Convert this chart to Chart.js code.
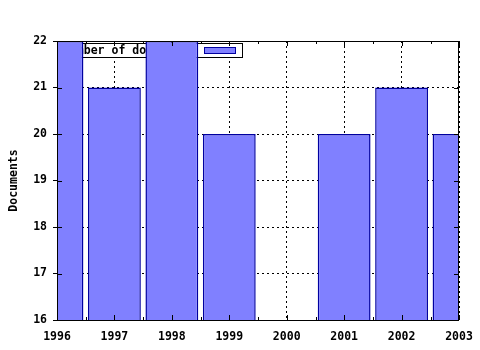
<!DOCTYPE html>
<html lang="en">
<head>
<meta charset="UTF-8">
<title>Documents per year</title>
<script src="https://cdn.jsdelivr.net/npm/chart.js"></script>
<style>
  html, body { margin: 0; padding: 0; background: #fff; }
  #wrap { width: 480px; height: 350px; }
</style>
</head>
<body>
<div id="wrap"><canvas id="docChart"></canvas></div>
<script>
    // chart data
    const years = ['1996', '1997', '1998', '1999', '2000', '2001', '2002', '2003'];
    const docs = [22, 21, 22, 20, null, 20, 21, 20];
    const yTicks = [16, 17, 18, 19, 20, 21, 22];
    const seriesName = 'Number of documents';

    const FONT = { family: 'DejaVu Sans Mono', size: 11.5, weight: 'bold' };

    // legend box sits under the bars, like the original
    const legendUnderBars = {
        id: 'legendUnderBars',
        beforeDatasetsDraw(chart) {
            const ctx = chart.ctx;
            const a = chart.chartArea;
            ctx.save();
            ctx.fillStyle = '#fff';
            ctx.strokeStyle = '#000';
            ctx.lineWidth = 1;
            ctx.fillRect(a.left + 3, a.top + 3, 183, 13);
            ctx.strokeRect(a.left + 3.5, a.top + 2.5, 182, 14);
            ctx.fillStyle = '#000';
            ctx.font = 'bold 11.5px "DejaVu Sans Mono"';
            ctx.textBaseline = 'middle';
            ctx.fillText(seriesName, a.left + 6, a.top + 10);
            ctx.fillStyle = '#8080ff';
            ctx.fillRect(a.left + 147, a.top + 6, 32, 7);
            ctx.strokeStyle = '#0000a0';
            ctx.strokeRect(a.left + 147.5, a.top + 6.5, 31, 6);
            ctx.restore();
        }
    };

    // frame and inward ticks
    const frame = {
        id: 'frame',
        afterDatasetsDraw(chart) {
            const ctx = chart.ctx;
            const a = chart.chartArea;
            const x = chart.scales.x;
            const y = chart.scales.y;
            ctx.save();
            ctx.strokeStyle = '#000';
            ctx.lineWidth = 1;
            ctx.strokeRect(Math.round(a.left) + 0.5, Math.round(a.top) + 0.5,
                Math.round(a.right - a.left) - 1, Math.round(a.bottom - a.top));
            ctx.beginPath();
            for (let i = 0; i < years.length; i++) {
                const px = Math.round(x.getPixelForValue(i)) + 0.5;
                ctx.moveTo(px, a.bottom); ctx.lineTo(px, a.bottom - 5);
                ctx.moveTo(px, a.top); ctx.lineTo(px, a.top + 5);
                if (i < years.length - 1) {
                    const mx = Math.round((px + x.getPixelForValue(i + 1)) / 2) + 0.5;
                    ctx.moveTo(mx, a.bottom); ctx.lineTo(mx, a.bottom - 3);
                    ctx.moveTo(mx, a.top); ctx.lineTo(mx, a.top + 3);
                }
            }
            yTicks.forEach(v => {
                const py = Math.round(y.getPixelForValue(v)) + 0.5;
                ctx.moveTo(a.left, py); ctx.lineTo(a.left + 5, py);
                ctx.moveTo(a.right, py); ctx.lineTo(a.right - 5, py);
            });
            ctx.stroke();
            ctx.restore();
        }
    };

    new Chart(document.getElementById('docChart'), {
        type: 'bar',
        data: {
            labels: years,
            datasets: [{
                label: seriesName,
                data: docs,
                backgroundColor: '#8080ff',
                borderColor: '#0000a0',
                borderWidth: 1.5,
                borderSkipped: false,
                inflateAmount: 0,
                barPercentage: 0.92,
                categoryPercentage: 1.0
            }]
        },
        options: {
            responsive: true,
            maintainAspectRatio: false,
            animation: false,
            layout: { padding: { top: 41, right: 21, left: 0, bottom: 0 } },
            plugins: {
                legend: { display: false },
                tooltip: { enabled: false }
            },
            scales: {
                x: {
                    type: 'category',
                    offset: false,
                    grid: {
                        color: '#000',
                        lineWidth: 1,
                        drawTicks: false,
                        offset: false
                    },
                    border: { display: false, dash: [2, 3] },
                    ticks: { color: '#000', font: FONT, padding: 10, maxRotation: 0, autoSkip: false },
                    afterFit(scale) { scale.height = 30; },
                    afterUpdate(scale) { scale.paddingRight = 0; }
                },
                y: {
                    min: 16,
                    max: 22,
                    grid: {
                        color: '#000',
                        lineWidth: 1,
                        drawTicks: true,
                        tickLength: 4,
                        tickColor: '#000',
                        tickBorderDash: []
                    },
                    border: { display: false, dash: [2, 3] },
                    ticks: {
                        color: '#000', font: FONT, padding: 6, stepSize: 1,
                        callback: v => String(v)
                    },
                    title: {
                        display: true,
                        text: 'Documents',
                        color: '#000',
                        font: FONT,
                        padding: { top: 7, bottom: 0 }
                    },
                    afterFit(scale) { scale.width = 57; }
                }
            }
        },
        plugins: [legendUnderBars, frame]
    });
</script>
</body>
</html>
